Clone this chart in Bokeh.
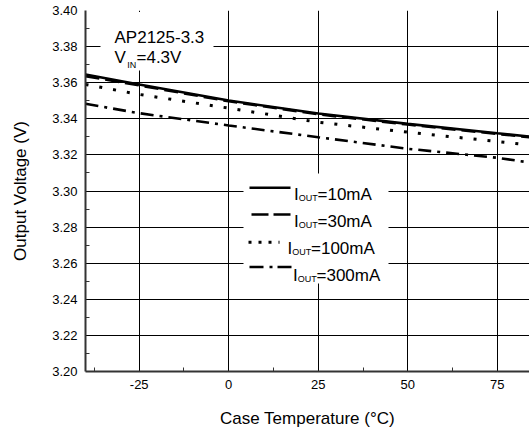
from bokeh.plotting import figure
from bokeh.models import (Range1d, FixedTicker, NumeralTickFormatter, BoxAnnotation,
                          Label, Arrow)
from bokeh.embed import file_html
from bokeh.resources import INLINE

# ---- data ----
temps = [-40, -25, 0, 25, 50, 75, 85]
v_10mA = [3.3645, 3.3590, 3.3501, 3.3429, 3.3372, 3.3320, 3.3300]
v_30mA = [3.3636, 3.3585, 3.3497, 3.3425, 3.3368, 3.3316, 3.3296]
v_100mA = [3.3590, 3.3535, 3.3459, 3.3381, 3.3326, 3.3274, 3.3253]
v_300mA = [3.3483, 3.3431, 3.3363, 3.3298, 3.3234, 3.3184, 3.3155]

series_labels = ["=10mA", "=30mA", "=100mA", "=300mA"]
x_ticks = [-25, 0, 25, 50, 75]
x_minor = [-37.5, -12.5, 12.5, 37.5, 62.5]
y_ticks = [3.20, 3.22, 3.24, 3.26, 3.28, 3.30, 3.32, 3.34, 3.36, 3.38, 3.40]
y_minor = [3.21, 3.23, 3.25, 3.27, 3.29, 3.31, 3.33, 3.35, 3.37, 3.39]

FONT = "Liberation Sans"
X0, X1 = -40, 84
Y0, Y1 = 3.20, 3.40

# frame geometry in picture pixels
FL, FT, FW, FH = 85, 10, 444, 361
W, H = 529, 432


def dx(px):
    return X0 + (px - FL) * (X1 - X0) / FW


def dy(py):
    return Y1 - (py - FT) * (Y1 - Y0) / FH


p = figure(width=W, height=H, x_range=Range1d(X0, X1), y_range=Range1d(Y0, Y1),
           output_backend="svg", toolbar_location=None,
           min_border_left=FL, min_border_right=W - FL - FW, min_border_top=FT,
           min_border_bottom=H - FT - FH)
p.outline_line_color = None
p.background_fill_color = "white"

p.xaxis.ticker = FixedTicker(ticks=x_ticks, minor_ticks=x_minor)
p.yaxis.ticker = FixedTicker(ticks=y_ticks, minor_ticks=y_minor)
p.xaxis.formatter = NumeralTickFormatter(format="0")
p.yaxis.formatter = NumeralTickFormatter(format="0.00")

for ax in (p.xaxis, p.yaxis):
    ax.axis_line_width = 2
    ax.axis_line_color = "#333333"
    ax.major_tick_in = 0
    ax.major_tick_out = 0
    ax.minor_tick_in = 4
    ax.minor_tick_out = 0
    ax.minor_tick_line_color = "#333333"
    ax.major_label_text_font = FONT
    ax.major_label_text_font_size = "13px"
    ax.major_label_text_color = "black"
    ax.major_label_standoff = 8
    ax.axis_label_text_font = FONT
    ax.axis_label_text_font_size = "17px"
    ax.axis_label_text_font_style = "normal"
    ax.axis_label_text_color = "black"

p.xaxis.axis_label = "Case Temperature (°C)"
p.yaxis.axis_label = "Output Voltage (V)"
p.xaxis.axis_label_standoff = 17
p.yaxis.axis_label_standoff = 19

p.grid.grid_line_color = "black"
p.grid.grid_line_width = 1
p.grid.grid_line_alpha = 1

# white backgrounds for the text boxes (cover grid lines)
p.add_layout(BoxAnnotation(left=dx(100), right=dx(213), top=dy(11.5), bottom=dy(70),
                           fill_color="white", fill_alpha=1, line_color=None, level="underlay"))
p.add_layout(BoxAnnotation(left=dx(243), right=dx(388), top=dy(173), bottom=dy(283),
                           fill_color="white", fill_alpha=1, line_color=None, level="underlay"))

# curves
styles = [
    dict(line_dash="solid", line_width=2.6),
    dict(line_dash="14 6", line_width=2.6),
    dict(line_dash="3 11", line_width=3),
    dict(line_dash="13 6 3 6", line_width=2.6),
]
values = [v_10mA, v_30mA, v_100mA, v_300mA]
for v, st in zip(values, styles):
    p.line(temps, v, line_color="black", **st)

# legend (custom, to get subscripts)
sample_specs = [
    (249, 290, 187.3, "solid", 2.6),
    (251, 290, 214.0, "17 5", 2.6),
    (248, 279, 241.7, "3 7", 3),
    (249, 291, 266.5, "14 6 3 5", 2.6),
]
text_rows = [(293.5, 193.5), (293.5, 220.5), (287.0, 247.5), (292.5, 274.5)]
for (x_a, x_b, yy, dash, lw), (tx, ty), lab in zip(sample_specs, text_rows, series_labels):
    p.add_layout(Arrow(end=None, x_start=dx(x_a), y_start=dy(yy), x_end=dx(x_b), y_end=dy(yy),
                       line_color="black", line_width=lw, line_dash=dash))
    p.add_layout(Label(x=dx(tx), y=dy(ty), text="I", text_font=FONT, text_font_size="17px",
                       text_baseline="alphabetic", text_color="black"))
    p.add_layout(Label(x=dx(tx + 4.8), y=dy(ty + 3.5), text="OUT", text_font=FONT,
                       text_font_size="9px", text_baseline="alphabetic", text_color="black"))
    p.add_layout(Label(x=dx(tx + 23.5), y=dy(ty), text=lab, text_font=FONT,
                       text_font_size="17px", text_baseline="alphabetic", text_color="black"))

# device annotation
p.add_layout(Label(x=dx(114), y=dy(37.3), text="AP2125-3.3", text_font=FONT, text_font_size="17px",
                   text_baseline="alphabetic", text_color="black"))
p.add_layout(Label(x=dx(114), y=dy(57.3), text="V", text_font=FONT, text_font_size="17px",
                   text_baseline="alphabetic", text_color="black"))
p.add_layout(Label(x=dx(126.8), y=dy(64.5), text="IN", text_font=FONT, text_font_size="9px",
                   text_baseline="alphabetic", text_color="black"))
p.add_layout(Label(x=dx(136.0), y=dy(57.3), text="=4.3V", text_font=FONT, text_font_size="17px",
                   text_baseline="alphabetic", text_color="black"))

open("out.html", "w").write(file_html(p, INLINE))
